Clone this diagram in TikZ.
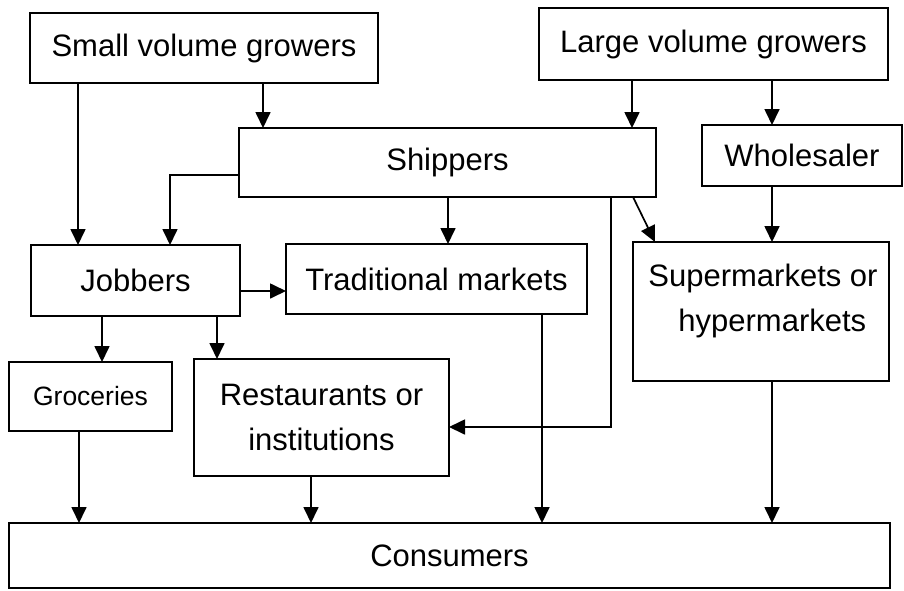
\documentclass[tikz,border=0pt]{standalone}
\usepackage{fontspec}
\setmainfont{Liberation Sans}
\usetikzlibrary{arrows.meta}
\begin{document}
\begin{tikzpicture}[x=1pt,y=-1pt,
  box/.style={draw,line width=1.7pt,rectangle,inner sep=0pt,outer sep=0pt,align=center,anchor=north west,font=\fontsize{31}{45}\selectfont},
  lbl/.style={inner sep=0pt,align=center,font=\fontsize{31}{45}\selectfont},
  arr/.style={line width=1.7pt,-{Triangle[length=16pt,width=15pt]}}]
\useasboundingbox (0,0) rectangle (904,590);
% boxes
\node[box,minimum width=348,minimum height=70] (small) at (30,13) {Small volume growers};
\node[box,minimum width=349,minimum height=72] (large) at (539,8) {Large volume growers};
\node[box,minimum width=417,minimum height=69] (ship) at (239,128) {Shippers};
\node[box,minimum width=200,minimum height=61] (whole) at (702,125) {Wholesaler};
\node[box,minimum width=209,minimum height=71] (job) at (31,245) {Jobbers};
\node[box,minimum width=301,minimum height=70] (trad) at (286,244) {Traditional markets};
\node[box,minimum width=256,minimum height=139] (super) at (633,242) {};
\node[lbl] (superlbl) at (763,301) {Supermarkets or\\\hspace*{0.6em}hypermarkets};
\node[box,minimum width=163,minimum height=69,font=\fontsize{26.5}{32}\selectfont] (groc) at (9,362) {Groceries};
\node[box,minimum width=255,minimum height=117] (rest) at (194,359) {Restaurants or\\institutions};
\node[box,minimum width=881,minimum height=65] (cons) at (9,523) {Consumers};
% helper coordinates
\coordinate (xa) at (78,0);
\coordinate (xb) at (263,0);
\coordinate (xc) at (170,0);
\coordinate (yc) at (0,175);
\coordinate (xd) at (448,0);
\coordinate (xe) at (632,0);
\coordinate (xf) at (772,0);
\coordinate (xg) at (633,0);
\coordinate (xh) at (655,0);
\coordinate (xi) at (611,0);
\coordinate (yi) at (0,427);
\coordinate (yj) at (0,291);
\coordinate (xk) at (102,0);
\coordinate (xl) at (217,0);
\coordinate (xm) at (79,0);
\coordinate (xn) at (311,0);
\coordinate (xo) at (542,0);
% connectors
\draw[arr] (small.south -| xa) -- (job.north -| xa);
\draw[arr] (small.south -| xb) -- (ship.north -| xb);
\draw[arr] (ship.west |- yc) -| (job.north -| xc);
\draw[arr] (ship.south -| xd) -- (trad.north -| xd);
\draw[arr] (large.south -| xe) -- (ship.north -| xe);
\draw[arr] (large.south -| xf) -- (whole.north -| xf);
\draw[arr] (ship.south -| xg) -- (super.north -| xh);
\draw[arr] (ship.south -| xi) |- (rest.east |- yi);
\draw[arr] (whole.south -| xf) -- (super.north -| xf);
\draw[arr] (job.east |- yj) -- (trad.west |- yj);
\draw[arr] (job.south -| xk) -- (groc.north -| xk);
\draw[arr] (job.south -| xl) -- (rest.north -| xl);
\draw[arr] (groc.south -| xm) -- (cons.north -| xm);
\draw[arr] (rest.south -| xn) -- (cons.north -| xn);
\draw[arr] (trad.south -| xo) -- (cons.north -| xo);
\draw[arr] (super.south -| xf) -- (cons.north -| xf);
\end{tikzpicture}
\end{document}
